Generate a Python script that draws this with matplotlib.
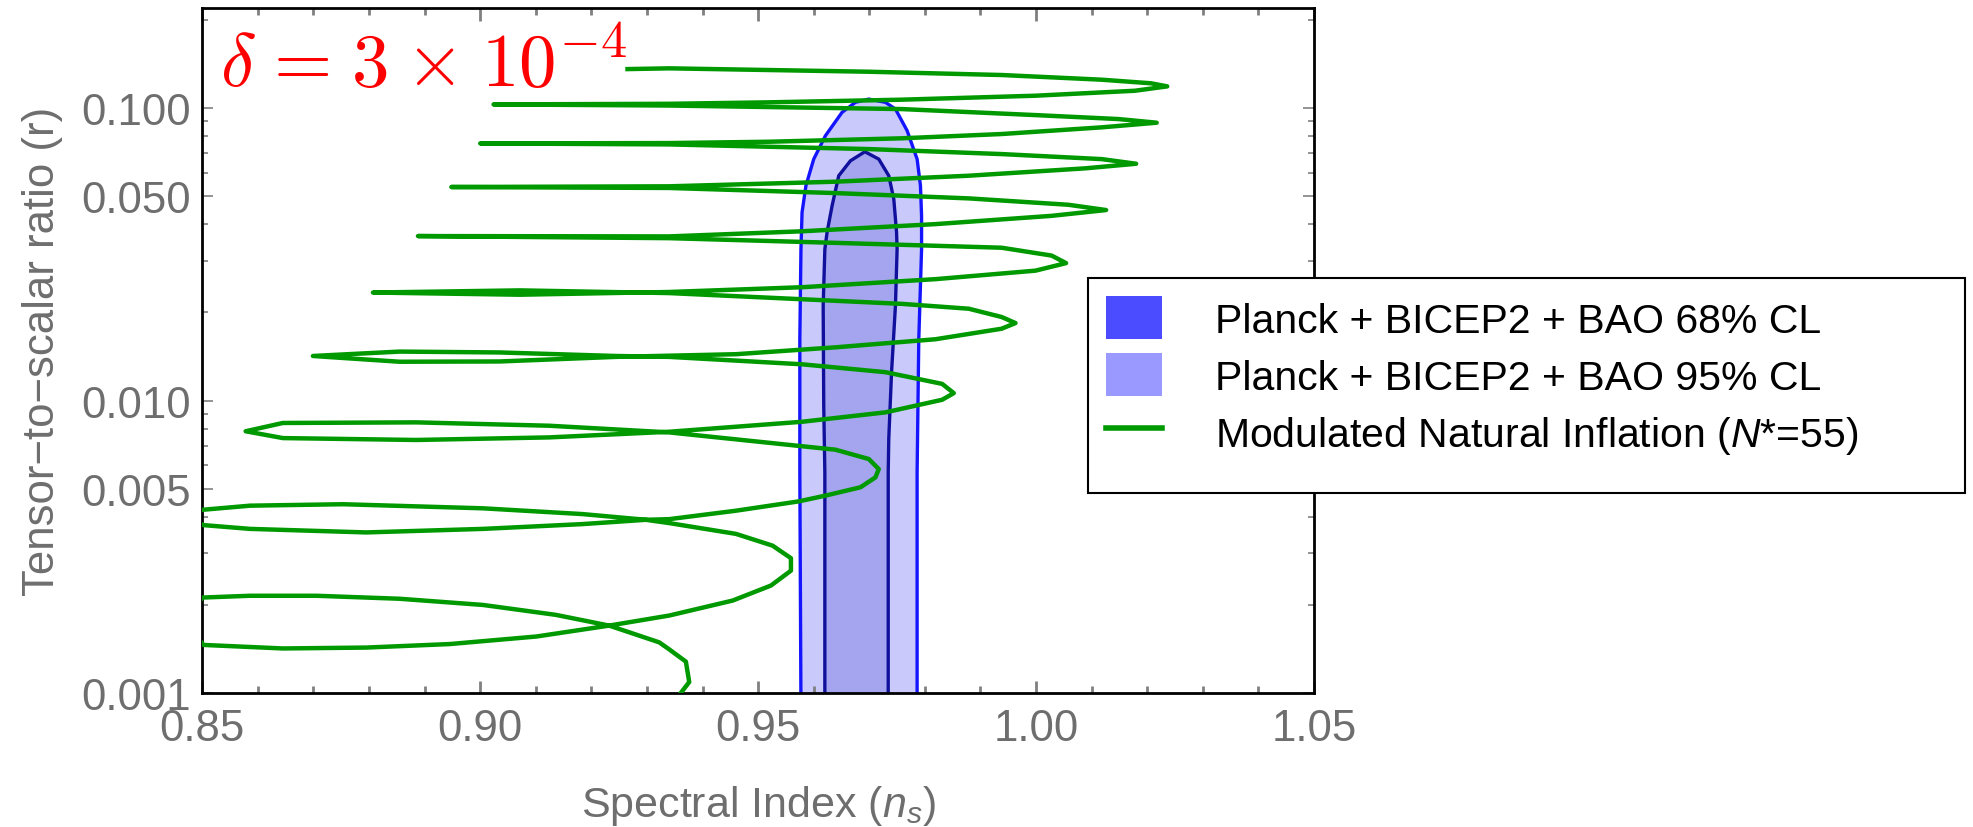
import matplotlib
matplotlib.use('Agg')
import matplotlib.pyplot as plt
from matplotlib.patches import Patch, Rectangle
from matplotlib.lines import Line2D
from matplotlib.ticker import FixedLocator, NullFormatter

# modulated natural inflation track (N* = 55), delta = 3e-4
ns_track = [
    0.9265, 0.9340, 0.9699, 0.9938, 1.0118, 1.0207, 1.0236, 1.0178, 0.9999, 0.9758,
    0.9520, 0.9340, 0.9024, 0.9340, 0.9758, 0.9999, 1.0148, 1.0217, 1.0118, 0.9938,
    0.9758, 0.9520, 0.9340, 0.9000, 0.9340, 0.9699, 0.9938, 1.0118, 1.0180, 1.0088,
    0.9879, 0.9639, 0.9340, 0.8948, 0.9340, 0.9639, 0.9879, 1.0058, 1.0126, 1.0028,
    0.9819, 0.9579, 0.9340, 0.8888, 0.9340, 0.9639, 0.9938, 1.0028, 1.0054, 0.9999,
    0.9819, 0.9579, 0.9340, 0.9071, 0.8807, 0.9071, 0.9340, 0.9579, 0.9759, 0.9879,
    0.9938, 0.9963, 0.9938, 0.9819, 0.9639, 0.9460, 0.9244, 0.9035, 0.8855, 0.8699,
    0.8855, 0.9035, 0.9244, 0.9340, 0.9579, 0.9729, 0.9831, 0.9852, 0.9831, 0.9729,
    0.9579, 0.9340, 0.9124, 0.8885, 0.8645, 0.8578, 0.8645, 0.8885, 0.9124, 0.9340,
    0.9639, 0.9699, 0.9717, 0.9711, 0.9684, 0.9621, 0.9573, 0.9460, 0.9340, 0.9298,
    0.9184, 0.9005, 0.8795, 0.8586, 0.8502, 0.8469, 0.8500, 0.8586, 0.8753, 0.9005,
    0.9184, 0.9298, 0.9340, 0.9460, 0.9526, 0.9559, 0.9559, 0.9523, 0.9454, 0.9340,
    0.9232, 0.9101, 0.8945, 0.8795, 0.8645, 0.8502, 0.8469, 0.8500, 0.8586, 0.8705,
    0.8855, 0.9005, 0.9136, 0.9232, 0.9322, 0.9340, 0.9370, 0.9376, 0.9358, 0.9353,
]
r_track = [
    0.1359, 0.1367, 0.1331, 0.1297, 0.1250, 0.1215, 0.1186, 0.1146, 0.1102, 0.1068,
    0.1046, 0.1034, 0.1029, 0.1020, 0.0992, 0.0946, 0.0917, 0.0891, 0.0859, 0.0815,
    0.0788, 0.0767, 0.0759, 0.0757, 0.0751, 0.0724, 0.0696, 0.0669, 0.0645, 0.0622,
    0.0587, 0.0560, 0.0540, 0.0537, 0.0533, 0.0512, 0.0491, 0.0467, 0.0448, 0.0428,
    0.0401, 0.0379, 0.0364, 0.0365, 0.0359, 0.0346, 0.0333, 0.0313, 0.0295, 0.0278,
    0.0260, 0.0244, 0.0235, 0.0230, 0.0234, 0.0238, 0.0233, 0.0222, 0.0214, 0.0206,
    0.0193, 0.0184, 0.0176, 0.0162, 0.0152, 0.0144, 0.0141, 0.0136, 0.01357, 0.0142,
    0.0147, 0.0146, 0.0142, 0.0141, 0.0133, 0.0125, 0.0114, 0.0106, 0.01006, 0.00911,
    0.00846, 0.00782, 0.00748, 0.00733, 0.00744, 0.00785, 0.00838, 0.00842, 0.00820, 0.00778,
    0.00679, 0.00631, 0.00583, 0.00546, 0.00505, 0.00473, 0.00452, 0.00420, 0.00393, 0.00391,
    0.00378, 0.00364, 0.00354, 0.00364, 0.00375, 0.00400, 0.00423, 0.00437, 0.00442, 0.00428,
    0.00409, 0.00391, 0.00381, 0.00350, 0.00319, 0.00289, 0.00262, 0.00233, 0.00207, 0.00184,
    0.00170, 0.00156, 0.00147, 0.00143, 0.00142, 0.00146, 0.00176, 0.00212, 0.00215, 0.00215,
    0.00210, 0.00200, 0.00185, 0.00170, 0.00149, 0.00141, 0.00128, 0.00109, 0.000984, 0.000954,
]

# Planck + BICEP2 + BAO confidence regions
ns_95 = [0.9577, 0.9575, 0.9575, 0.9577, 0.9579, 0.9586, 0.9600, 0.9621, 0.9651, 0.9675, 0.9699,
         0.9729, 0.9747, 0.9768, 0.9786, 0.9792, 0.9794, 0.9794, 0.9789, 0.9786, 0.9786]
r_95 = [0.0009, 0.00570, 0.0162, 0.0329, 0.0440, 0.0543, 0.0669, 0.0804, 0.0967, 0.1046, 0.1073,
        0.1046, 0.0992, 0.0837, 0.0669, 0.0543, 0.0428, 0.0329, 0.0162, 0.00570, 0.0009]
ns_68 = [0.9620, 0.9620, 0.9618, 0.9617, 0.9620, 0.9624, 0.9633, 0.9645, 0.9666, 0.9692,
         0.9717, 0.9735, 0.9744, 0.9749, 0.9750, 0.9747, 0.9740, 0.9735, 0.9734, 0.9734]
r_68 = [0.0009, 0.00568, 0.00960, 0.0211, 0.0329, 0.0376, 0.0463, 0.0587, 0.0660, 0.0709,
        0.0669, 0.0587, 0.0489, 0.0376, 0.0329, 0.0211, 0.0125, 0.00739, 0.00568, 0.0009]

x_ticks = [0.85, 0.90, 0.95, 1.00, 1.05]
x_labels = ['0.85', '0.90', '0.95', '1.00', '1.05']
y_ticks = [0.001, 0.005, 0.01, 0.05, 0.1]
y_labels = ['0.001', '0.005', '0.010', '0.050', '0.100']

legend_labels = ['Planck + BICEP2 + BAO 68% CL',
                 'Planck + BICEP2 + BAO 95% CL',
                 'Modulated Natural Inflation ($N$*=55)']

plt.rcParams['font.family'] = ['Liberation Sans', 'DejaVu Sans']
plt.rcParams['mathtext.fontset'] = 'custom'
plt.rcParams['mathtext.rm'] = 'Liberation Sans'
plt.rcParams['mathtext.it'] = 'Liberation Sans:italic'
plt.rcParams['mathtext.bf'] = 'Liberation Sans:bold'

grey = '#6e6e6e'
tick_grey = '#808080'
green = '#009900'

W, H = 1973, 828
fig = plt.figure(figsize=(W / 100, H / 100), dpi=100)
ax = fig.add_axes([0.10253, 0.16184, 0.56346, 0.82693])

# contours first, track on top
ax.fill(ns_95, r_95, facecolor='#c9c9fb', edgecolor='#1414ff', lw=2.4, zorder=1)
ax.fill(ns_68, r_68, facecolor='#a4a4ef', edgecolor='#10109c', lw=2.4, zorder=2)
ax.plot(ns_track, r_track, color=green, lw=3.2, zorder=3)

ax.set_yscale('log')
ax.set_xlim(0.85, 1.05)
ax.set_ylim(0.001, 0.2193)

ax.xaxis.set_major_locator(FixedLocator(x_ticks))
ax.set_xticklabels(x_labels)
ax.xaxis.set_minor_locator(FixedLocator([0.85 + 0.01 * i for i in range(21)]))

ax.yaxis.set_major_locator(FixedLocator(y_ticks))
ax.set_yticklabels(y_labels)
minor_y = [m * 10.0 ** e for e in (-3, -2, -1) for m in (2, 3, 4, 6, 7, 8, 9)]
ax.yaxis.set_minor_locator(FixedLocator(minor_y))
ax.yaxis.set_minor_formatter(NullFormatter())

ax.tick_params(axis='x', which='major', direction='in', length=9, width=2,
               color=tick_grey, top=True, labelsize=31.5, labelcolor=grey, pad=11)
ax.tick_params(axis='x', which='minor', direction='in', length=5, width=2,
               color=tick_grey, top=True)
ax.tick_params(axis='y', which='major', direction='in', length=8, width=1.2,
               color=tick_grey, right=True, labelsize=31.5, labelcolor=grey, pad=8.5)
ax.tick_params(axis='y', which='minor', direction='in', length=4.5, width=1.2,
               color=tick_grey, right=True)

for s in ax.spines.values():
    s.set_linewidth(2)
    s.set_color('black')

ax.set_xlabel('Spectral Index ($n_s$)', fontsize=31, color=grey)
ax.xaxis.set_label_coords(0.5, -0.132)
ax.set_ylabel('Tensor\u2212to\u2212scalar ratio (r)', fontsize=31.5, color=grey)
ax.yaxis.set_label_coords(-0.125, 0.5)

ax.text(0.016, 0.886, r'$\delta\hspace{0.1}=\hspace{0.1}3\hspace{0.06}\times\hspace{0.06}10^{-4}$',
        transform=ax.transAxes, fontsize=54, color='red', math_fontfamily='cm',
        ha='left', va='baseline')

# legend entries, with a fixed-size frame drawn behind them
handles = [Patch(facecolor='#4b4bff', edgecolor='none'),
           Patch(facecolor='#9999ff', edgecolor='none'),
           Line2D([], [], color=green, lw=4)]
leg = fig.legend(handles, legend_labels, loc='upper left',
                 bbox_to_anchor=(1088 / W, 1 - 279 / H), bbox_transform=fig.transFigure,
                 fontsize=29.5, frameon=False, borderaxespad=0,
                 handlelength=1.35, handleheight=1.22, handletextpad=1.3,
                 labelspacing=0.34, borderpad=0.45)
frame = Rectangle((1088 / W, 1 - 494 / H), (1965 - 1088) / W, (494 - 279) / H,
                  transform=fig.transFigure, facecolor='white', edgecolor='black',
                  lw=1.5, zorder=4)
fig.add_artist(frame)
leg.set_zorder(5)

fig.savefig('out.png', dpi=100)
